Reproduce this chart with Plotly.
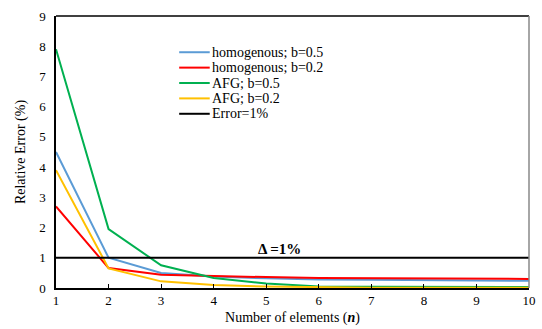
import plotly.graph_objects as go

n = [1, 2, 3, 4, 5, 6, 7, 8, 9, 10]
homog_b05 = [4.5, 1.0, 0.5, 0.38, 0.32, 0.28, 0.27, 0.26, 0.25, 0.24]
homog_b02 = [2.7, 0.66, 0.44, 0.39, 0.36, 0.33, 0.32, 0.31, 0.30, 0.30]
afg_b05 = [7.9, 1.95, 0.75, 0.33, 0.15, 0.05, 0.04, 0.03, 0.03, 0.03]
afg_b02 = [3.9, 0.65, 0.22, 0.1, 0.05, 0.02, 0.01, 0.01, 0.01, 0.01]
error_line = [1] * 10

series = [
    ("homogenous; b=0.5", homog_b05, "#5B9BD5"),
    ("homogenous; b=0.2", homog_b02, "#FF0000"),
    ("AFG; b=0.5", afg_b05, "#00B050"),
    ("AFG; b=0.2", afg_b02, "#FFC000"),
    ("Error=1%", error_line, "#000000"),
]

W, H = 542, 329
ML, MR, MT, MB = 56, 6, 16, 39
PW, PH = W - ML - MR, H - MT - MB

def px_x(px):
    return (px - ML) / PW

def px_y(py):
    return (H - MB - py) / PH

fig = go.Figure()
for name, ys, col in series:
    fig.add_trace(go.Scatter(x=n, y=ys, mode="lines", name=name,
                             line=dict(color=col, width=2), showlegend=False))

font = "Liberation Serif, DejaVu Serif, serif"

shapes = [
    dict(type="line", xref="paper", yref="paper", x0=0, x1=1, y0=1, y1=1,
         line=dict(color="#000", width=1.5)),
    dict(type="line", xref="paper", yref="paper", x0=1, x1=1, y0=0, y1=1,
         line=dict(color="#888", width=1.5)),
]
annotations = [
    dict(x=5.25, y=1, xref="x", yref="y", yanchor="bottom", yshift=-1,
         text="<b>Δ =1%</b>", showarrow=False, font=dict(size=15, family=font)),
]
# manual legend (compact spacing like the reference)
row0, step = 52.5, 15.5
for i, (name, ys, col) in enumerate(series):
    py = row0 + i * step
    shapes.append(dict(type="line", xref="paper", yref="paper",
                       x0=px_x(181), x1=px_x(212), y0=px_y(py), y1=px_y(py),
                       line=dict(color=col, width=2)))
    annotations.append(dict(x=px_x(213), y=px_y(py), xref="paper", yref="paper",
                            xanchor="left", yanchor="middle", text=name,
                            borderpad=0,
                            showarrow=False, font=dict(size=14, family=font)))

fig.update_layout(
    width=W, height=H,
    margin=dict(l=ML, r=MR, t=MT, b=MB),
    paper_bgcolor="white", plot_bgcolor="white",
    font=dict(family=font, size=13, color="#000"),
    showlegend=False,
    xaxis=dict(range=[1, 10], tickvals=n, showgrid=False, zeroline=False,
               showline=True, linecolor="#000", linewidth=1.5, mirror=False,
               ticks="inside", ticklen=4, tickcolor="#000",
               ticklabeloverflow="allow",
               title=dict(text="Number of elements (<b><i>n</i></b>)", standoff=5,
                          font=dict(size=14))),
    yaxis=dict(range=[0, 9], dtick=1, showgrid=False, zeroline=False,
               showline=True, linecolor="#000", linewidth=1.5,
               ticks="", ticklabelstandoff=6,
               title=dict(text="Relative Error (%)", standoff=10,
                          font=dict(size=14))),
    shapes=shapes,
    annotations=annotations,
)

fig.write_html("out.html", config={"displayModeBar": False},
               post_script="document.body.style.margin='0';document.body.style.overflow='hidden';")
